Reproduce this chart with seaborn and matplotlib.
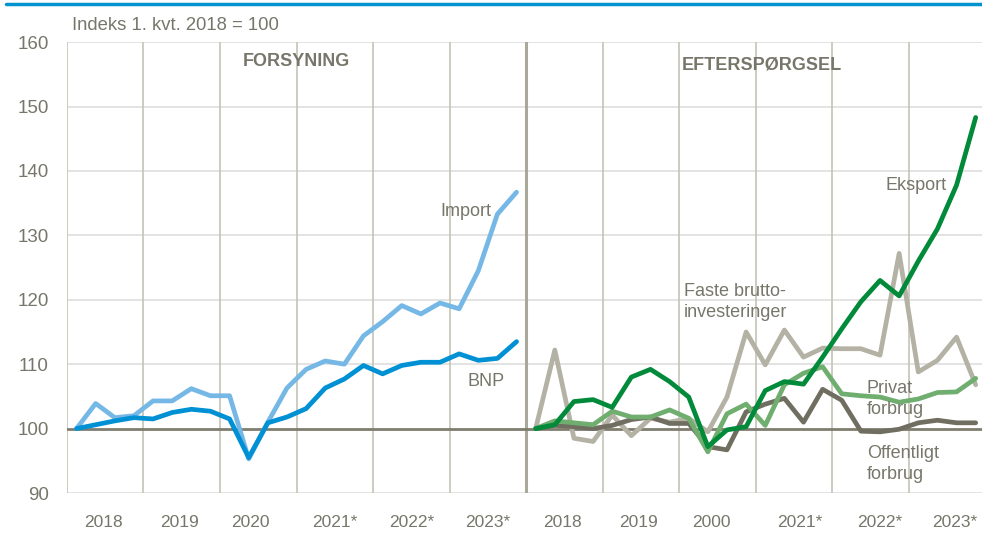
import numpy as np
import pandas as pd
import matplotlib.pyplot as plt
import seaborn as sns
from matplotlib.lines import Line2D

# Indeks 1. kvt. 2018 = 100, kvartaler 2018K1 - 2023K4
bnp = [100.0, 100.6, 101.2, 101.7, 101.5, 102.5, 103.0, 102.7, 101.5, 95.5, 100.9, 101.8,
       103.1, 106.3, 107.7, 109.8, 108.5, 109.8, 110.3, 110.3, 111.6, 110.6, 110.9, 113.5]
importen = [100.0, 103.9, 101.7, 102.0, 104.3, 104.3, 106.2, 105.1, 105.1, 95.3, 101.0, 106.3,
            109.2, 110.5, 110.0, 114.4, 116.6, 119.1, 117.8, 119.5, 118.6, 124.5, 133.3, 136.7]
eksport = [100.0, 100.6, 104.2, 104.5, 103.3, 108.0, 109.2, 107.3, 104.9, 97.2, 99.8, 100.3,
           105.9, 107.3, 106.9, 111.1, 115.5, 119.7, 123.0, 120.6, 126.0, 131.0, 137.8, 148.3]
privat = [100.0, 101.2, 100.9, 100.6, 102.7, 101.8, 101.8, 102.9, 101.6, 96.4, 102.3, 103.8,
          100.5, 106.8, 108.6, 109.6, 105.4, 105.1, 104.9, 104.1, 104.6, 105.6, 105.7, 107.8]
offentligt = [100.0, 100.5, 100.3, 100.0, 100.5, 101.4, 101.8, 100.8, 100.8, 97.2, 96.7, 102.6,
              103.8, 104.7, 101.0, 106.1, 104.4, 99.6, 99.5, 99.9, 100.9, 101.3, 100.9, 100.9]
faste = [100.0, 112.2, 98.5, 98.0, 102.1, 98.9, 101.6, 101.0, 101.6, 99.5, 104.9, 115.0,
         109.9, 115.3, 111.1, 112.5, 112.4, 112.4, 111.4, 127.2, 108.8, 110.6, 114.2, 106.8]

year_labels = ["2018", "2019", "2020", "2021*", "2022*", "2023*",
               "2018", "2019", "2000", "2021*", "2022*", "2023*"]
year_pos = [1.4, 5.4, 9.1, 13.5, 17.5, 21.5, 25.4, 29.4, 33.2, 37.8, 42.0, 45.9]

colors = {
    "BNP": "#0090d4",
    "Import": "#75b8e6",
    "Faste": "#b3b2a4",
    "Offentligt": "#6f6e60",
    "Privat": "#6fae6e",
    "Eksport": "#008a3a",
}
txt = "#77766a"

q = np.arange(24)
frames = []
for name, vals, offset in [("Import", importen, 0), ("BNP", bnp, 0),
                           ("Faste", faste, 24), ("Offentligt", offentligt, 24),
                           ("Privat", privat, 24), ("Eksport", eksport, 24)]:
    frames.append(pd.DataFrame({"x": q + offset, "value": vals, "serie": name}))
df = pd.concat(frames, ignore_index=True)

sns.set_style("white")
plt.rcParams['font.family'] = ['Liberation Sans', 'DejaVu Sans']

fig = plt.figure(figsize=(9.82, 5.33), dpi=100)
ax = fig.add_axes([0.0682, 0.075, 0.9318, 0.846])

# gitterlinjer
for y in [90, 110, 120, 130, 140, 150, 160]:
    ax.axhline(y, color="#dedede", lw=1.2, zorder=0)
for k in range(12):
    if k == 6:
        continue
    ax.axvline(-0.5 + 4 * k, color="#c4c3b6", lw=1.2, zorder=0)
ax.axvline(23.5, color="#a9a89a", lw=2.2, zorder=1)
ax.axhline(100, color="#7e7d6e", lw=2, zorder=1)

sns.lineplot(data=df, x="x", y="value", hue="serie", units="serie", estimator=None,
             palette=colors, lw=3.4, legend=False, ax=ax, zorder=3)

ax.set_xlim(-0.5, 47.33)
ax.set_ylim(90, 160)
ax.set_yticks(np.arange(90, 161, 10))
ax.set_xticks(year_pos)
ax.set_xticklabels(year_labels)
ax.tick_params(axis="y", length=0, pad=13, labelsize=13.5, labelcolor=txt)
ax.tick_params(axis="x", length=0, pad=16, labelsize=12.5, labelcolor=txt)
ax.set_xlabel("")
ax.set_ylabel("")
for s in ax.spines.values():
    s.set_visible(False)

fs = 13
ax.text(-0.25, 161.2, "Indeks 1. kvt. 2018 = 100", fontsize=13.3, color=txt, va="bottom")
ax.text(11.5, 157, "FORSYNING", fontsize=fs, color=txt, fontweight="bold", ha="center", va="center")
ax.text(35.8, 156.5, "EFTERSPØRGSEL", fontsize=fs, color=txt, fontweight="bold", ha="center", va="center")

ax.text(21.7, 133.7, "Import", fontsize=fs, color=txt, ha="right", va="center")
ax.text(21.4, 107.3, "BNP", fontsize=fs, color=txt, ha="center", va="center")
ax.text(43.9, 137.7, "Eksport", fontsize=fs, color=txt, ha="center", va="center")
ax.text(31.75, 119.7, "Faste brutto-\ninvesteringer", fontsize=fs, color=txt,
        ha="left", va="center", linespacing=1.3)
ax.text(41.3, 104.6, "Privat\nforbrug", fontsize=fs, color=txt,
        ha="left", va="center", linespacing=1.25)
ax.text(41.3, 94.5, "Offentligt\nforbrug", fontsize=fs, color=txt,
        ha="left", va="center", linespacing=1.3)

# blå linje i toppen
fig.add_artist(Line2D([0.006, 1.0], [1 - 3.5 / 533, 1 - 3.5 / 533], color="#0093d0", lw=2.5))

fig.savefig("out.png", dpi=100)
